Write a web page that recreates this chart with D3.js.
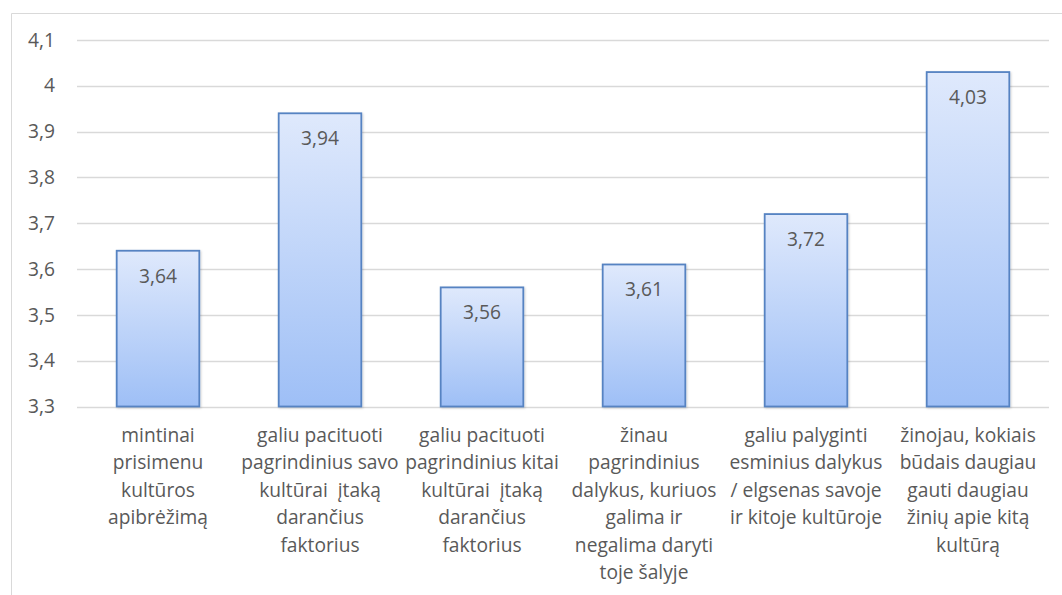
<!DOCTYPE html>
<html>
<head>
<meta charset="utf-8">
<script src="https://cdn.jsdelivr.net/npm/d3@7"></script>
<style>
  html, body { margin: 0; padding: 0; background: #fff; }
  svg { display: block; }
  text { font-family: "Open Sans", Lato, sans-serif; fill: #595959; }
</style>
</head>
<body>
<svg id="chart" width="1062" height="595"></svg>
<script>
// Survey items (one label line per entry)
const categories = [
  ["mintinai", "prisimenu", "kultūros", "apibrėžimą"],
  ["galiu pacituoti", "pagrindinius savo", "kultūrai  įtaką", "darančius", "faktorius"],
  ["galiu pacituoti", "pagrindinius kitai", "kultūrai  įtaką", "darančius", "faktorius"],
  ["žinau", "pagrindinius", "dalykus, kuriuos", "galima ir", "negalima daryti", "toje šalyje"],
  ["galiu palyginti", "esminius dalykus", "/ elgsenas savoje", "ir kitoje kultūroje"],
  ["žinojau, kokiais", "būdais daugiau", "gauti daugiau", "žinių apie kitą", "kultūrą"]
];
const values = [3.64, 3.94, 3.56, 3.61, 3.72, 4.03];
const yTicks = [3.3, 3.4, 3.5, 3.6, 3.7, 3.8, 3.9, 4.0, 4.1];

const svg = d3.select("#chart");
const plot = { left: 77, right: 1049, top: 40, bottom: 406.5 };
const fmt = v => String(+v.toFixed(2)).replace(".", ",");
const FONT = 19.2;

// Outer chart frame (open on the right and bottom)
svg.append("path")
  .attr("d", `M11.5,595 V13.5 H1062`)
  .attr("fill", "none")
  .attr("stroke", "#d9d9d9")
  .attr("stroke-width", 1);

const defs = svg.append("defs");
const grad = defs.append("linearGradient")
  .attr("id", "barFill").attr("x1", 0).attr("y1", 0).attr("x2", 0).attr("y2", 1);
grad.append("stop").attr("offset", "0%").attr("stop-color", "#dfe9fc");
grad.append("stop").attr("offset", "100%").attr("stop-color", "#9ebff6");

const shadow = defs.append("filter").attr("id", "barShadow")
  .attr("x", "-10%").attr("y", "-10%").attr("width", "130%").attr("height", "130%");
shadow.append("feDropShadow").attr("dx", 1).attr("dy", 1).attr("stdDeviation", 1)
  .attr("flood-color", "#000").attr("flood-opacity", 0.18);

const x = d3.scaleBand()
  .domain(d3.range(values.length))
  .range([plot.left, plot.right])
  .paddingInner(0.49).paddingOuter(0.245);

const y = d3.scaleLinear().domain([3.3, 4.1]).range([plot.bottom, plot.top]);

// Horizontal gridlines
svg.append("g")
  .selectAll("line")
  .data(yTicks)
  .join("line")
  .attr("x1", plot.left).attr("x2", plot.right)
  .attr("y1", d => Math.round(y(d)) + 0.5).attr("y2", d => Math.round(y(d)) + 0.5)
  .attr("stroke", "#d9d9d9").attr("stroke-width", 1.3);

// Y axis labels
const yAxis = svg.append("g")
  .attr("transform", `translate(${plot.left},0)`)
  .call(d3.axisLeft(y).tickValues(yTicks).tickFormat(fmt).tickSize(0).tickPadding(22));
yAxis.select(".domain").remove();
yAxis.selectAll("text")
  .style("font-family", "'Open Sans', Lato, sans-serif")
  .style("font-size", FONT + "px")
  .attr("fill", "#595959");

// Bars
svg.append("g")
  .selectAll("rect")
  .data(values)
  .join("rect")
  .attr("x", (d, i) => x(i))
  .attr("y", d => y(d))
  .attr("width", x.bandwidth())
  .attr("height", d => y(3.3) - y(d))
  .attr("fill", "url(#barFill)")
  .attr("stroke", "#5683c2")
  .attr("stroke-width", 1.8)
  .attr("filter", "url(#barShadow)");

// Value labels inside the bar tops
svg.append("g")
  .selectAll("text")
  .data(values)
  .join("text")
  .attr("x", (d, i) => x(i) + x.bandwidth() / 2)
  .attr("y", d => y(d) + 32)
  .attr("text-anchor", "middle")
  .style("font-size", FONT + "px")
  .text(fmt);

// Category labels under the axis
const catG = svg.append("g");
categories.forEach((lines, i) => {
  const t = catG.append("text")
    .attr("x", x(i) + x.bandwidth() / 2)
    .attr("y", 442)
    .attr("text-anchor", "middle")
    .style("font-size", FONT + "px");
  lines.forEach((line, k) => {
    t.append("tspan")
      .attr("x", x(i) + x.bandwidth() / 2)
      .attr("dy", k === 0 ? 0 : 27.4)
      .style("white-space", "pre")
      .text(line);
  });
});
</script>
</body>
</html>
